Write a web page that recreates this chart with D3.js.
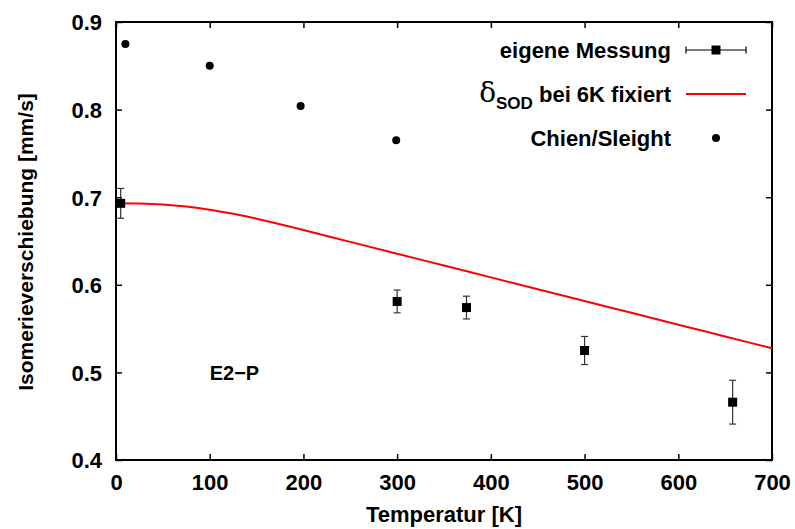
<!DOCTYPE html>
<html><head><meta charset="utf-8">
<script src="https://cdn.jsdelivr.net/npm/d3@7"></script>
<style>
body{margin:0;background:#fff;}
text{font-family:"Liberation Sans",Arial,Helvetica,sans-serif;font-weight:bold;fill:#000;}
</style></head>
<body>
<svg id="c" width="795" height="529"></svg>
<script>
// measured data (eigene Messung)
const measT = [5, 300, 374, 500, 658];
const measV = [0.693, 0.581, 0.574, 0.525, 0.466];
const measErr = [0.017, 0.013, 0.013, 0.016, 0.025];
// Chien/Sleight
const chienT = [10, 100, 197, 299];
const chienV = [0.875, 0.850, 0.804, 0.765];
// delta_SOD curve fixed at 6K
const fitT = [0, 25, 50, 75, 100, 125, 150, 175, 200, 250, 300, 350, 400, 450, 500, 550, 600, 650, 700];
const fitV = [0.6930, 0.6927, 0.6916, 0.6893, 0.6858, 0.6810, 0.6755, 0.6692, 0.6625, 0.6490, 0.6355, 0.6220, 0.6085, 0.5950, 0.5815, 0.5680, 0.5545, 0.5410, 0.5275];
const xTicks = [0, 100, 200, 300, 400, 500, 600, 700];
const yTicks = [0.4, 0.5, 0.6, 0.7, 0.8, 0.9];
const legendLabels = ["eigene Messung", "bei 6K fixiert", "Chien/Sleight"];

const svg = d3.select("#c");
const L = 116, R = 772, T = 22, B = 460;
const x = d3.scaleLinear().domain([0, 700]).range([L, R]);
const y = d3.scaleLinear().domain([0.4, 0.9]).range([B, T]);
const FS = 22;

// axes with inward ticks
const gx = svg.append("g").attr("transform", `translate(0,${B})`)
  .call(d3.axisBottom(x).tickValues(xTicks).tickSize(-6).tickPadding(14).tickFormat(d3.format("d")));
const gxt = svg.append("g").attr("transform", `translate(0,${T})`)
  .call(d3.axisTop(x).tickValues(xTicks).tickSize(-6).tickFormat(""));
const gy = svg.append("g").attr("transform", `translate(${L},0)`)
  .call(d3.axisLeft(y).tickValues(yTicks).tickSize(-6).tickPadding(14).tickFormat(d3.format(".1f")));
const gyr = svg.append("g").attr("transform", `translate(${R},0)`)
  .call(d3.axisRight(y).tickValues(yTicks).tickSize(-6).tickFormat(""));
[gx, gxt, gy, gyr].forEach(g => {
  g.select(".domain").remove();
  g.selectAll(".tick line").attr("stroke", "#000").attr("stroke-width", 1.5);
  g.selectAll(".tick text").attr("font-size", FS).attr("font-family", "Liberation Sans, Arial, sans-serif").attr("font-weight", "bold");
});
gy.selectAll(".tick text").attr("dy", "0.36em");

// frame
svg.append("rect").attr("x", L).attr("y", T).attr("width", R - L).attr("height", B - T)
  .attr("fill", "none").attr("stroke", "#000").attr("stroke-width", 2);

// axis labels
svg.append("text").attr("x", (L + R) / 2).attr("y", 522).attr("text-anchor", "middle")
  .attr("font-size", 22).text("Temperatur [K]");
svg.append("text").attr("transform", `translate(33,${(T + B) / 2 + 1}) rotate(-90)`)
  .attr("text-anchor", "middle").attr("font-size", 21).text("Isomerieverschiebung [mm/s]");

// E2-P label
svg.append("text").attr("x", x(100)).attr("y", y(0.5)).attr("dy", "0.36em")
  .attr("font-size", 20).text("E2\u2212P");

// fit curve
const line = d3.line().x((d, i) => x(fitT[i])).y(d => y(d)).curve(d3.curveMonotoneX);
svg.append("path").attr("d", line(fitV)).attr("fill", "none").attr("stroke", "#ff0000").attr("stroke-width", 2);

// error bars
const eb = svg.append("g").attr("stroke", "#333").attr("stroke-width", 1.2);
measT.forEach((t, i) => {
  const cx = x(t), y1 = y(measV[i] + measErr[i]), y2 = y(measV[i] - measErr[i]);
  eb.append("line").attr("x1", cx).attr("x2", cx).attr("y1", y1).attr("y2", y2);
  eb.append("line").attr("x1", cx - 3.5).attr("x2", cx + 3.5).attr("y1", y1).attr("y2", y1);
  eb.append("line").attr("x1", cx - 3.5).attr("x2", cx + 3.5).attr("y1", y2).attr("y2", y2);
});
svg.append("g").selectAll("rect").data(measT).join("rect")
  .attr("x", d => x(d) - 4.5).attr("y", (d, i) => y(measV[i]) - 4.5)
  .attr("width", 9).attr("height", 9).attr("fill", "#000");

// Chien/Sleight dots
svg.append("g").selectAll("circle").data(chienT).join("circle")
  .attr("cx", d => x(d)).attr("cy", (d, i) => y(chienV[i])).attr("r", 4).attr("fill", "#000");

// legend
const lx = 671, s1 = 686, s2 = 746, sm = 716;
const rows = [50, 94, 138];
svg.append("text").attr("x", lx).attr("y", rows[0]).attr("dy", "0.36em").attr("text-anchor", "end")
  .attr("font-size", FS).text(legendLabels[0]);
const lg = svg.append("g").attr("stroke", "#000").attr("stroke-width", 1.2);
lg.append("line").attr("x1", s1).attr("x2", s2).attr("y1", rows[0]).attr("y2", rows[0]);
lg.append("line").attr("x1", s1).attr("x2", s1).attr("y1", rows[0] - 3.5).attr("y2", rows[0] + 3.5);
lg.append("line").attr("x1", s2).attr("x2", s2).attr("y1", rows[0] - 3.5).attr("y2", rows[0] + 3.5);
svg.append("rect").attr("x", sm - 4.5).attr("y", rows[0] - 4.5).attr("width", 9).attr("height", 9).attr("fill", "#000");

const t2 = svg.append("text").attr("x", lx).attr("y", rows[1]).attr("dy", "0.36em").attr("text-anchor", "end").attr("font-size", FS);
t2.append("tspan").attr("font-weight", "normal").attr("font-size", 28).attr("font-family", "DejaVu Serif, serif").text("\u03B4");
t2.append("tspan").attr("font-size", 17).attr("dy", 7).text("SOD");
t2.append("tspan").attr("dy", -7).text(" " + legendLabels[1]);
svg.append("line").attr("x1", s1).attr("x2", s2).attr("y1", rows[1]).attr("y2", rows[1]).attr("stroke", "#ff0000").attr("stroke-width", 2);

svg.append("text").attr("x", lx).attr("y", rows[2]).attr("dy", "0.36em").attr("text-anchor", "end")
  .attr("font-size", FS).text(legendLabels[2]);
svg.append("circle").attr("cx", sm).attr("cy", rows[2]).attr("r", 4).attr("fill", "#000");
</script>
</body></html>
